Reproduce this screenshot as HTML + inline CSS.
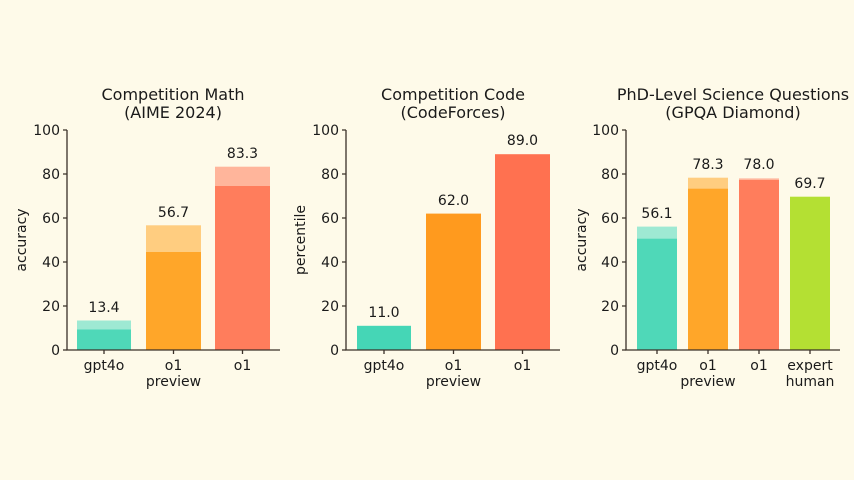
<!DOCTYPE html>
<html><head><meta charset="utf-8"><style>
html,body{margin:0;padding:0;background:#fefae9;}
svg{display:block;font-family:"DejaVu Sans","Liberation Sans",sans-serif;fill:#1a1a1a;}
</style></head><body>
<svg width="854" height="480" viewBox="0 0 854 480">
<rect width="854" height="480" fill="#fefae9"/>
<g font-size="16" text-anchor="middle">
<text x="173" y="100">Competition Math</text><text x="173" y="118">(AIME 2024)</text>
<text x="453" y="100">Competition Code</text><text x="453" y="118">(CodeForces)</text>
<text x="733" y="100">PhD-Level Science Questions</text><text x="733" y="118">(GPQA Diamond)</text>
</g>
<rect x="77" y="320.5" width="54" height="29.5" fill="#9ee9d3"/><rect x="77" y="329.5" width="54" height="20.5" fill="#4fd8b8"/>
<rect x="146" y="225.3" width="55" height="124.7" fill="#ffcd80"/><rect x="146" y="252" width="55" height="98" fill="#ffa629"/>
<rect x="215" y="166.7" width="55" height="183.3" fill="#ffb59b"/><rect x="215" y="186" width="55" height="164" fill="#ff7d5c"/>
<rect x="357" y="325.8" width="54" height="24.2" fill="#45d6b6"/>
<rect x="426" y="213.6" width="55" height="136.4" fill="#ff9a1e"/>
<rect x="495" y="154.2" width="55" height="195.8" fill="#ff7150"/>
<rect x="637" y="226.6" width="40" height="123.4" fill="#9ee9d3"/><rect x="637" y="238.7" width="40" height="111.3" fill="#4fd8b8"/>
<rect x="688" y="177.7" width="40" height="172.3" fill="#ffcd80"/><rect x="688" y="188.7" width="40" height="161.3" fill="#ffa629"/>
<rect x="739" y="178.4" width="40" height="171.6" fill="#ffb59b"/><rect x="739" y="180" width="40" height="170" fill="#ff7d5c"/>
<rect x="790" y="196.7" width="40" height="153.3" fill="#b4e033"/>
<g stroke="#3a3028" stroke-width="1.3" fill="none">
<path d="M67 130V350H280M346 130V350H560M626 130V350H840"/>
<path d="M63 350h4M63 306h4M63 262h4M63 218h4M63 174h4M63 130h4"/>
<path d="M342 350h4M342 306h4M342 262h4M342 218h4M342 174h4M342 130h4"/>
<path d="M622 350h4M622 306h4M622 262h4M622 218h4M622 174h4M622 130h4"/>
<path d="M104 350v4M173.5 350v4M242.5 350v4M384 350v4M453.5 350v4M522.5 350v4M657 350v4M708 350v4M759 350v4M810 350v4"/>
</g>
<g font-size="14" text-anchor="end">
<text x="60" y="355">0</text><text x="60" y="311">20</text><text x="60" y="267">40</text><text x="60" y="223">60</text><text x="60" y="179">80</text><text x="60" y="135">100</text>
<text x="339" y="355">0</text><text x="339" y="311">20</text><text x="339" y="267">40</text><text x="339" y="223">60</text><text x="339" y="179">80</text><text x="339" y="135">100</text>
<text x="619" y="355">0</text><text x="619" y="311">20</text><text x="619" y="267">40</text><text x="619" y="223">60</text><text x="619" y="179">80</text><text x="619" y="135">100</text>
</g>
<g font-size="14" text-anchor="middle">
<text transform="translate(26 240) rotate(-90)">accuracy</text>
<text transform="translate(305 240) rotate(-90)">percentile</text>
<text transform="translate(586 240) rotate(-90)">accuracy</text>
<text x="104" y="370">gpt4o</text><text x="173.5" y="370">o1</text><text x="173.5" y="386">preview</text><text x="242.5" y="370">o1</text>
<text x="384" y="370">gpt4o</text><text x="453.5" y="370">o1</text><text x="453.5" y="386">preview</text><text x="522.5" y="370">o1</text>
<text x="657" y="370">gpt4o</text><text x="708" y="370">o1</text><text x="708" y="386">preview</text><text x="759" y="370">o1</text><text x="810" y="370">expert</text><text x="810" y="386">human</text>
<text x="104" y="312">13.4</text><text x="173.5" y="217">56.7</text><text x="242.5" y="158">83.3</text>
<text x="384" y="317">11.0</text><text x="453.5" y="205">62.0</text><text x="522.5" y="145">89.0</text>
<text x="657" y="218">56.1</text><text x="708" y="169">78.3</text><text x="759" y="169">78.0</text><text x="810" y="188">69.7</text>
</g>
</svg>
</body></html>
